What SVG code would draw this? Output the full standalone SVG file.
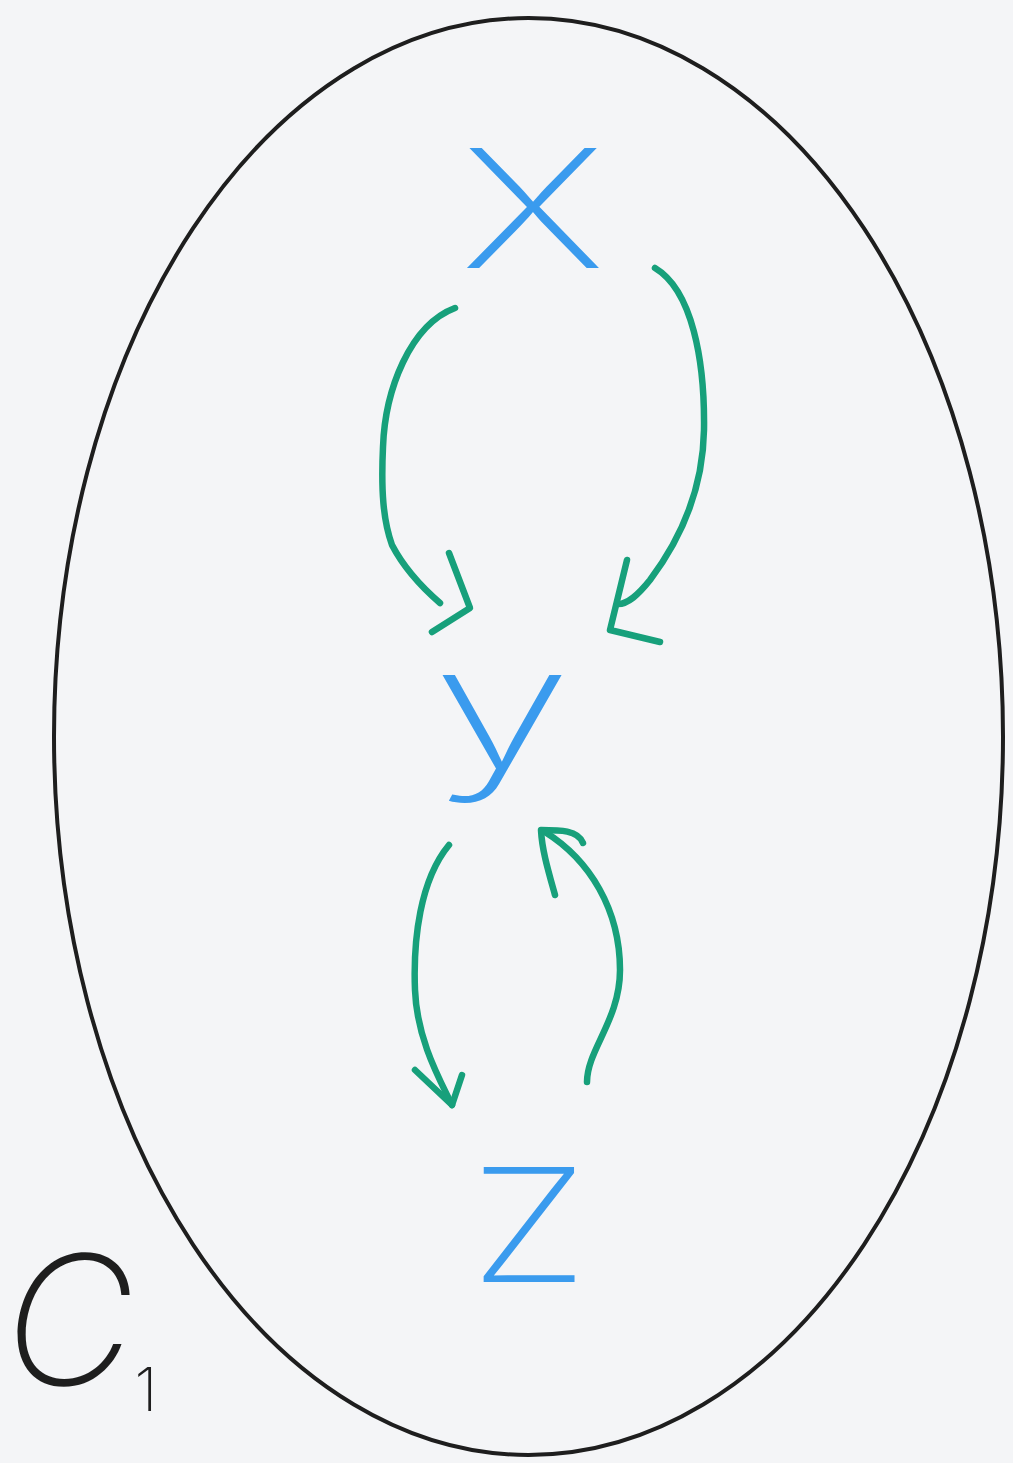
<svg xmlns="http://www.w3.org/2000/svg" width="1013" height="1463" viewBox="0 0 1013 1463">
<style>
.bg{fill:#f4f5f7}
.set{fill:none;stroke:#1e1e1e;stroke-width:4}
.lbl{font-family:Inter,"Liberation Sans",sans-serif;font-weight:250;fill:#3a9bee}
.name{font-family:Inter,"Liberation Sans",sans-serif;font-weight:250;font-style:italic;fill:#1e1e1e}
.arc{fill:none;stroke:#17a07b;stroke-width:6.5;stroke-linecap:round;stroke-linejoin:round}
</style>
<rect class="bg" x="0" y="0" width="1013" height="1463"/>
<g id="set-C1">
<ellipse class="set" cx="528.5" cy="736.5" rx="474.5" ry="718.5"/>
<text class="name" x="4" y="1385" font-size="180">C<tspan font-size="60" dy="26" font-style="normal">1</tspan></text>
</g>
<g id="node-x"><text class="lbl" x="460" y="268" font-size="165" textLength="146" lengthAdjust="spacingAndGlyphs">X</text></g>
<g id="node-y"><text class="lbl" x="432" y="768" font-size="170" textLength="140" lengthAdjust="spacingAndGlyphs">y</text></g>
<g id="node-z"><text class="lbl" x="470" y="1282" font-size="158" textLength="118" lengthAdjust="spacingAndGlyphs">Z</text></g>
<g id="connectors">
<path class="arc" d="M455,308 C410,325 385,390 383,447 C381,490 383,520 392,545 C405,570 425,590 440,603"/>
<path class="arc" d="M449,553 L470,608 L432,632"/>
<path class="arc" d="M655,268 C692,290 705,360 704,430 C703,490 680,540 650,580 C638,595 628,604 618,604"/>
<path class="arc" d="M627,560 L610,630 L660,642"/>
<path class="arc" d="M449,845 C420,880 413,940 415,990 C417,1040 440,1080 452,1105"/>
<path class="arc" d="M415,1070 L452,1105 L462,1075"/>
<path class="arc" d="M587,1082 C587,1050 620,1020 620,970 C620,910 590,860 545,832"/>
<path class="arc" d="M555,895 C548,870 542,850 541,830 C560,830 578,830 583,843"/>
</g>
</svg>
